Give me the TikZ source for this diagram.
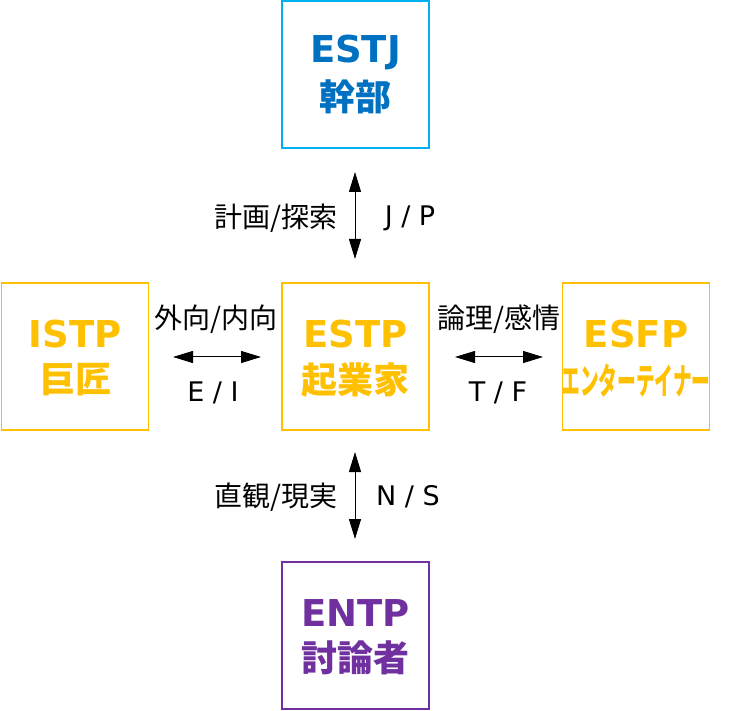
\documentclass[tikz,border=0pt]{standalone}
\usepackage{fontspec}
\setmainfont{DejaVu Sans}
\newfontfamily\jpfont{Noto Sans CJK JP}
\usetikzlibrary{arrows.meta}
\definecolor{cyanB}{HTML}{00B0F0}
\definecolor{blueT}{HTML}{0070C0}
\definecolor{goldC}{HTML}{FFC000}
\definecolor{purpC}{HTML}{7030A0}
\tikzset{
  typebox/.style={draw=#1, line width=1.6pt, minimum size=147pt, inner sep=0pt, fill=white},
  titletxt/.style={text=#1, font=\fontsize{37}{40}\selectfont\bfseries, inner sep=0pt},
  kanjitxt/.style={text=#1, font=\jpfont\fontsize{36}{40}\selectfont\bfseries, inner sep=0pt},
  lbl/.style={font=\jpfont\fontsize{28}{30}\selectfont, inner sep=0pt},
  lat/.style={font=\fontsize{27}{30}\selectfont, inner sep=0pt},
  arr/.style={{Triangle[length=20pt,width=12pt]}-{Triangle[length=20pt,width=12pt]}, line width=1pt, black}
}
\begin{document}
\begin{tikzpicture}[x=1pt,y=-1pt]
\useasboundingbox (0,0) rectangle (734,711);
% boxes
\node[typebox=cyanB] (estj) at (355.5,74.5) {};
\node[typebox=goldC] (istp) at (75,356.5) {};
\node[typebox=goldC] (estp) at (355.5,356.5) {};
\node[typebox=goldC] (esfp) at (636,356.5) {};
\node[typebox=purpC] (entp) at (355.5,635.5) {};
% texts
\node[titletxt=blueT] (estjt) at (355.5,52) {ESTJ};
\node[kanjitxt=blueT] (estjk) at (355.5,97) {幹部};
\node[titletxt=goldC] (istpt) at (75,334) {ISTP};
\node[kanjitxt=goldC] (istpk) at (75,380) {巨匠};
\node[titletxt=goldC] (estpt) at (355.5,334) {ESTP};
\node[kanjitxt=goldC] (estpk) at (355.5,380) {起業家};
\node[titletxt=goldC] (esfpt) at (636,334) {ESFP};
\node[kanjitxt=goldC] (esfpk) at (636,381) {\scalebox{0.52}[1]{エンターテイナー}};
\node[titletxt=purpC] (entpt) at (355.5,613) {ENTP};
\node[kanjitxt=purpC] (entpk) at (355.5,658) {討論者};
% arrow endpoints
\coordinate (a1) at (355,172);
\coordinate (a2) at (355,259);
\coordinate (b1) at (173,357);
\coordinate (b2) at (261,357);
\coordinate (c1) at (455,357);
\coordinate (c2) at (543,357);
\coordinate (d1) at (355,452);
\coordinate (d2) at (355,539);
\draw[arr] (a1) -- (a2);
\draw[arr] (b1) -- (b2);
\draw[arr] (c1) -- (c2);
\draw[arr] (d1) -- (d2);
% labels
\node[lbl] (l1) at (276,218) {計画/探索};
\node[lat] (l2) at (410,218) {J / P};
\node[lbl] (l3) at (216,319) {外向/内向};
\node[lat] (l4) at (213,393) {E / I};
\node[lbl] (l5) at (499,319) {論理/感情};
\node[lat] (l6) at (498,393) {T / F};
\node[lbl] (l7) at (276,497) {直観/現実};
\node[lat] (l8) at (408,497) {N / S};
\end{tikzpicture}
\end{document}
